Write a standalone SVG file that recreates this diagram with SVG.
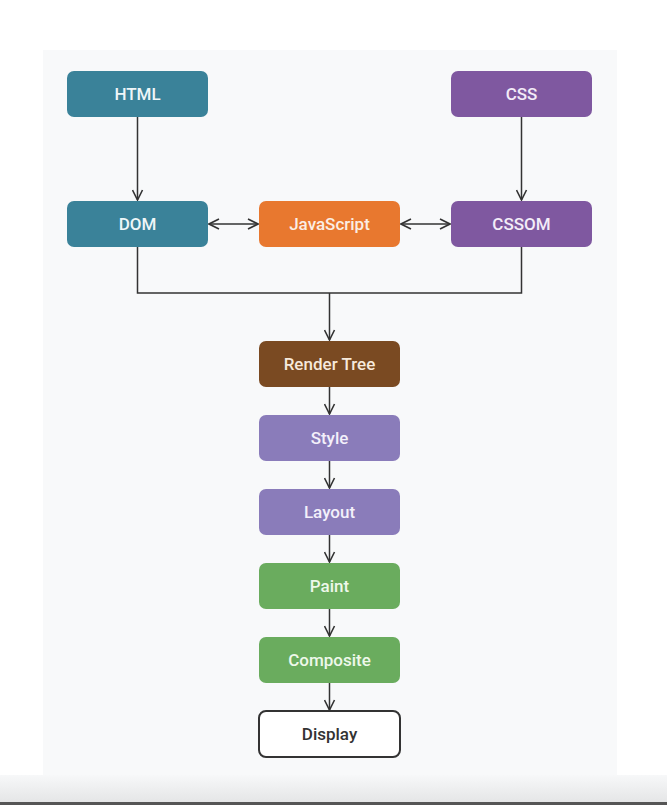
<svg xmlns="http://www.w3.org/2000/svg" width="667" height="805" viewBox="0 0 667 805">
<defs>
<linearGradient id="bot" x1="0" y1="0" x2="0" y2="1">
<stop offset="0" stop-color="#f7f8f9"/>
<stop offset="1" stop-color="#e4e5e6"/>
</linearGradient>
<marker id="ah" viewBox="0 0 12 12" refX="11" refY="6" markerWidth="12" markerHeight="12" markerUnits="userSpaceOnUse" orient="auto-start-reverse">
<path d="M1,1 L11,6 L1,11" fill="none" stroke="#333" stroke-width="1.6"/>
</marker>
</defs>
<style>
.n{stroke:none}
.t{font-family:Roboto,"Open Sans","Liberation Sans",sans-serif;font-size:17px;font-weight:500;text-anchor:middle;dominant-baseline:central;fill:#eef6f8}
.c{fill:none;stroke:#333;stroke-width:1.5}
</style>
<rect x="0" y="0" width="667" height="805" fill="#ffffff"/>
<rect x="43" y="50" width="574" height="730" fill="#f8f9fa"/>
<rect x="0" y="775" width="667" height="28" fill="url(#bot)"/>
<rect x="0" y="802" width="667" height="3" fill="#555"/>
<g id="connectors">
<path class="c" d="M137.5,117 V200" marker-end="url(#ah)"/>
<path class="c" d="M521.5,117 V200" marker-end="url(#ah)"/>
<path class="c" d="M209,224 H258" marker-start="url(#ah)" marker-end="url(#ah)"/>
<path class="c" d="M401,224 H450" marker-start="url(#ah)" marker-end="url(#ah)"/>
<path class="c" d="M137.5,247 V293 H521.5 V247"/>
<path class="c" d="M329.5,293 V340" marker-end="url(#ah)"/>
<path class="c" d="M329.5,387 V414" marker-end="url(#ah)"/>
<path class="c" d="M329.5,461 V488" marker-end="url(#ah)"/>
<path class="c" d="M329.5,535 V562" marker-end="url(#ah)"/>
<path class="c" d="M329.5,609 V636" marker-end="url(#ah)"/>
<path class="c" d="M329.5,683 V710" marker-end="url(#ah)"/>
</g>
<g id="html"><rect class="n" x="67" y="71" width="141" height="46" rx="7" fill="#3a8299"/><text class="t" x="137.5" y="94">HTML</text></g>
<g id="css"><rect class="n" x="451" y="71" width="141" height="46" rx="7" fill="#7f58a0"/><text class="t" x="521.5" y="94" style="fill:#f3ecf8">CSS</text></g>
<g id="dom"><rect class="n" x="67" y="201" width="141" height="46" rx="7" fill="#3a8299"/><text class="t" x="137.5" y="224">DOM</text></g>
<g id="javascript"><rect class="n" x="259" y="201" width="141" height="46" rx="7" fill="#e8782f"/><text class="t" x="329.5" y="224" style="fill:#fbeee4">JavaScript</text></g>
<g id="cssom"><rect class="n" x="451" y="201" width="141" height="46" rx="7" fill="#7f58a0"/><text class="t" x="521.5" y="224" style="fill:#f3ecf8">CSSOM</text></g>
<g id="render-tree"><rect class="n" x="259" y="341" width="141" height="46" rx="7" fill="#7a4a22"/><text class="t" x="329.5" y="364" style="fill:#f6e9dc">Render Tree</text></g>
<g id="style"><rect class="n" x="259" y="415" width="141" height="46" rx="7" fill="#8a7cba"/><text class="t" x="329.5" y="438" style="fill:#f3f0fa">Style</text></g>
<g id="layout"><rect class="n" x="259" y="489" width="141" height="46" rx="7" fill="#8a7cba"/><text class="t" x="329.5" y="512" style="fill:#f3f0fa">Layout</text></g>
<g id="paint"><rect class="n" x="259" y="563" width="141" height="46" rx="7" fill="#6aac5e"/><text class="t" x="329.5" y="586" style="fill:#eef8ea">Paint</text></g>
<g id="composite"><rect class="n" x="259" y="637" width="141" height="46" rx="7" fill="#6aac5e"/><text class="t" x="329.5" y="660" style="fill:#eef8ea">Composite</text></g>
<g id="display"><rect x="259" y="711" width="141" height="46" rx="7" fill="#ffffff" stroke="#333" stroke-width="2"/><text class="t" x="329.5" y="734" style="fill:#333">Display</text></g>
</svg>
